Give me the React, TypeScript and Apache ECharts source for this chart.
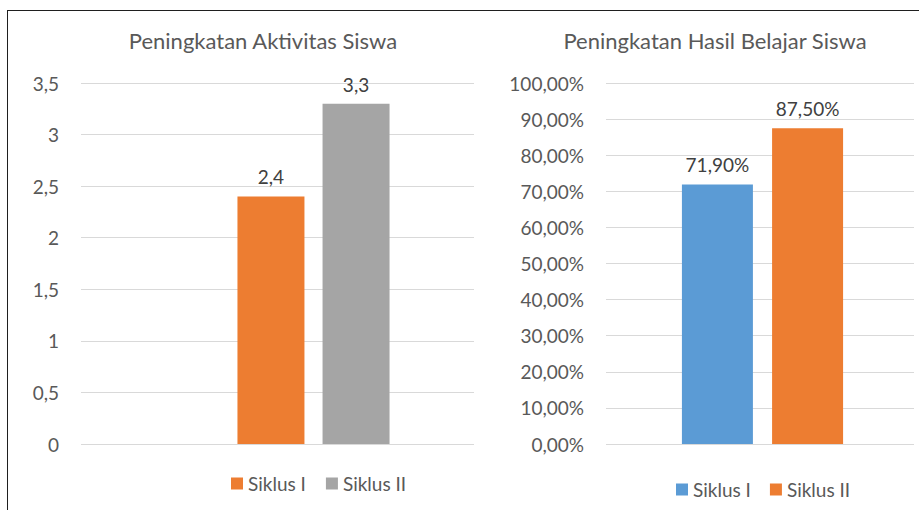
import React, { useEffect, useRef } from "react";
import * as echarts from "echarts";

const leftTitle = "Peningkatan Aktivitas Siswa";
const rightTitle = "Peningkatan Hasil Belajar Siswa";
const seriesNames = ["Siklus I", "Siklus II"];
const aktivitasCategory = ["Aktivitas Siswa"];
const aktivitasValues = [2.4, 3.3];
const hasilCategory = ["Hasil Belajar Siswa"];
const hasilValues = [71.9, 87.5];

const FONT = "Lato, 'Open Sans', sans-serif";
const TEXT = "#595959";
const LABEL = "#404040";
const ORANGE = "#ED7D31";
const GRAY = "#A5A5A5";
const BLUE = "#5B9BD5";

export default function App() {
  const ref = useRef<HTMLDivElement>(null);
  useEffect(() => {
    if (!ref.current) return;
    const chart = echarts.init(ref.current, null, { renderer: "svg" });
    const comma = (v: number) => String(v).replace(".", ",");
    const pct = (v: number) => v.toFixed(2).replace(".", ",") + "%";
    const axisCommon = {
      axisLine: { show: false },
      axisTick: { show: false },
    };
    chart.setOption({
      animation: false,
      backgroundColor: "#fff",
      textStyle: { fontFamily: FONT },
      grid: [
        { left: 81, top: 83, width: 465, height: 361 },
        { left: 606, top: 83, width: 315, height: 361 },
      ],
      xAxis: [
        { type: "category", gridIndex: 0, data: aktivitasCategory, ...axisCommon, axisLabel: { show: false }, splitLine: { show: false } },
        { type: "category", gridIndex: 1, data: hasilCategory, ...axisCommon, axisLabel: { show: false }, splitLine: { show: false }, z: 5 },
      ],
      yAxis: [
        {
          type: "value", gridIndex: 0, min: 0, max: 3.5, interval: 0.5, ...axisCommon,
          axisLabel: { formatter: comma, color: TEXT, fontSize: 19, fontFamily: FONT, margin: 22 },
          splitLine: { lineStyle: { color: "#D9D9D9", width: 1 } },
        },
        {
          type: "value", gridIndex: 1, min: 0, max: 100, interval: 10, ...axisCommon, z: 5,
          axisLabel: { formatter: pct, color: TEXT, fontSize: 19, fontFamily: FONT, margin: 22 },
          splitLine: { lineStyle: { color: "#D9D9D9", width: 1 } },
        },
      ],
      legend: [
        {
          left: 226, top: 469, itemWidth: 12, itemHeight: 12, itemGap: 20, icon: "rect",
          textStyle: { color: TEXT, fontSize: 19, fontFamily: FONT },
          data: [
            { name: seriesNames[0], itemStyle: { color: ORANGE } },
            { name: seriesNames[1], itemStyle: { color: GRAY } },
          ],
        },
        {
          left: 671, top: 475, itemWidth: 12, itemHeight: 12, itemGap: 19, icon: "rect", z: 6,
          textStyle: { color: TEXT, fontSize: 19, fontFamily: FONT },
          data: [
            { name: seriesNames[0], itemStyle: { color: BLUE } },
            { name: seriesNames[1], itemStyle: { color: ORANGE } },
          ],
        },
      ],
      graphic: [
        { type: "rect", z: 3, shape: { x: 474, y: 11, width: 450, height: 500 }, style: { fill: "#fff" } },
        { type: "rect", z: 8, shape: { x: 914, y: 11, width: 10, height: 500 }, style: { fill: "#fff" } },
        { type: "line", z: 10, shape: { x1: 7, y1: 10.5, x2: 919, y2: 10.5 }, style: { stroke: "#1f1f1f", lineWidth: 1 } },
        { type: "line", z: 10, shape: { x1: 7.5, y1: 10, x2: 7.5, y2: 510 }, style: { stroke: "#1f1f1f", lineWidth: 1 } },
        { type: "text", z: 10, x: 263, y: 40, style: { text: leftTitle, fill: TEXT, font: `22px ${FONT}`, textAlign: "center", textVerticalAlign: "middle" } },
        { type: "text", z: 10, x: 715, y: 40, style: { text: rightTitle, fill: TEXT, font: `22px ${FONT}`, textAlign: "center", textVerticalAlign: "middle" } },
      ],
      series: [
        {
          name: seriesNames[0], type: "bar", xAxisIndex: 0, yAxisIndex: 0, data: [aktivitasValues[0]],
          barWidth: 67, barGap: "27%", itemStyle: { color: ORANGE },
          label: { show: true, position: "top", distance: 10, formatter: (p: any) => comma(p.value), color: LABEL, fontSize: 19, fontFamily: FONT },
        },
        {
          name: seriesNames[1], type: "bar", xAxisIndex: 0, yAxisIndex: 0, data: [aktivitasValues[1]],
          barWidth: 67, barGap: "27%", itemStyle: { color: GRAY },
          label: { show: true, position: "top", distance: 10, formatter: (p: any) => comma(p.value), color: LABEL, fontSize: 19, fontFamily: FONT },
        },
        {
          name: seriesNames[0], type: "bar", xAxisIndex: 1, yAxisIndex: 1, data: [hasilValues[0]], z: 6,
          barWidth: 71, barGap: "27%", itemStyle: { color: BLUE },
          label: { show: true, position: "top", distance: 10, formatter: (p: any) => pct(p.value), color: LABEL, fontSize: 19, fontFamily: FONT },
        },
        {
          name: seriesNames[1], type: "bar", xAxisIndex: 1, yAxisIndex: 1, data: [hasilValues[1]], z: 6,
          barWidth: 71, barGap: "27%", itemStyle: { color: ORANGE },
          label: { show: true, position: "top", distance: 10, formatter: (p: any) => pct(p.value), color: LABEL, fontSize: 19, fontFamily: FONT },
        },
      ],
    });
    return () => chart.dispose();
  }, []);
  return (
    <div style={{ position: "fixed", left: 0, top: 0, width: 919, height: 510, background: "#fff" }}>
      <div ref={ref} style={{ width: 919, height: 510 }} />
    </div>
  );
}
